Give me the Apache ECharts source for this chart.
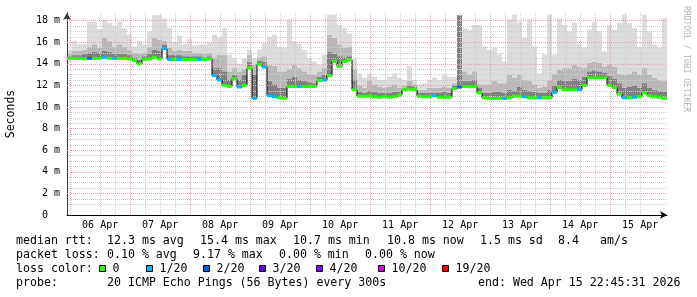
<!DOCTYPE html>
<html><head><meta charset="utf-8">
<script src="https://cdn.jsdelivr.net/npm/echarts@6/dist/echarts.min.js"></script>
<style>html,body{margin:0;padding:0;background:#fff}#c{width:697px;height:297px}</style>
</head><body><div id="c"></div>
<script>
// ---- data (ms), one value per 2-hour slot from Apr 5 22:45 to Apr 15 22:45 ----
const dayLabels = ['06 Apr','07 Apr','08 Apr','09 Apr','10 Apr','11 Apr','12 Apr','13 Apr','14 Apr','15 Apr'];
const median = [
14.5,14.5,14.5,14.45,14.5,14.5,14.5,14.6,14.5,14.5,
14.5,14.5,14.45,14.3,14.0,14.4,14.45,14.6,14.45,15.4,
14.4,14.4,14.4,14.4,14.4,14.4,14.4,14.4,14.45,12.9,
12.5,12.0,11.9,12.6,11.85,12.0,13.6,10.8,13.95,13.7,
11.05,10.95,10.85,10.8,11.9,11.9,11.9,11.9,11.9,11.9,
12.45,12.5,12.9,14.2,13.75,14.2,14.35,11.6,11.0,11.0,
11.0,10.95,10.9,10.95,10.9,10.95,11.1,11.6,11.65,11.6,
11.0,10.95,10.95,11.05,10.9,10.9,10.9,11.7,11.85,11.9,
11.9,11.9,11.3,10.85,10.8,10.8,10.8,10.8,10.85,11.0,
11.0,10.95,10.85,10.85,10.85,10.85,10.85,11.35,11.8,11.6,
11.6,11.6,11.6,12.0,12.7,12.7,12.7,12.7,12.0,11.8,
11.2,10.85,10.85,10.9,10.95,11.3,11.05,10.95,10.9,10.8];
const darkTop = [
14.7,14.8,14.8,14.9,15.0,15.1,15.0,15.2,15.1,14.9,
14.9,14.9,14.8,14.6,14.4,14.7,14.9,15.3,15.2,15.8,
14.8,14.8,14.8,14.7,14.7,14.7,14.7,14.6,14.7,13.6,
13.6,13.3,12.5,13.0,12.5,13.0,14.2,13.0,14.3,14.2,
12.4,12.1,11.8,11.8,12.6,12.8,12.5,12.4,12.3,12.2,
12.8,13.0,15.1,14.9,14.7,14.6,14.7,12.5,11.4,11.3,
11.5,11.4,11.3,11.3,11.3,11.4,11.4,11.8,12.0,11.9,
11.3,11.3,11.3,11.3,11.3,11.4,11.3,12.0,18.5,12.4,
12.4,12.5,11.8,11.3,11.3,11.4,11.4,11.3,11.6,11.5,
11.9,11.6,11.5,11.4,11.3,11.3,11.6,12.0,12.5,12.4,
12.4,12.6,12.5,12.8,13.3,13.4,13.3,13.2,12.9,12.6,
12.2,11.8,11.9,12.0,11.8,12.2,11.8,11.6,11.5,11.4];
const midTop = [
14.9,15.2,15.2,15.3,15.6,15.8,15.5,16.4,16.1,15.6,
15.8,15.6,15.3,15.0,14.9,15.0,15.6,16.4,16.2,16.1,
15.5,15.2,15.3,15.2,15.2,15.0,15.0,14.9,15.0,14.6,
14.85,14.8,13.3,13.6,13.3,13.5,14.85,13.9,14.6,14.7,
13.9,13.8,13.3,13.3,13.5,13.9,13.6,13.3,13.1,13.0,
13.3,13.6,16.7,16.4,15.8,15.5,15.6,13.5,12.0,11.8,
12.4,12.1,11.9,11.8,11.9,12.1,11.8,12.0,12.4,12.1,
11.6,11.6,11.8,11.8,11.8,11.9,11.8,12.2,18.5,13.3,
13.0,13.3,12.1,12.1,12.1,12.4,12.2,12.2,13.0,12.7,
13.0,12.5,12.4,12.1,11.8,11.9,12.5,13.1,13.45,13.6,
13.6,13.9,13.75,13.6,14.1,14.2,14.1,13.75,13.9,13.75,
13.1,13.0,13.1,13.3,13.0,13.6,13.0,12.7,12.5,12.4];
const maxTop = [
15.3,16.1,15.8,15.8,17.9,17.9,17.2,18.1,17.8,17.5,
17.9,17.3,16.7,15.6,16.1,15.8,17.0,18.5,18.5,18.2,
17.3,16.0,16.6,15.8,16.3,15.7,15.8,15.8,16.0,16.7,
16.4,17.3,14.85,14.5,14.0,14.5,15.3,14.5,15.3,15.9,
16.5,16.7,15.5,15.5,18.1,16.1,15.8,15.3,14.5,14.2,
13.9,14.85,18.55,18.55,17.6,17.3,16.8,14.5,13.1,12.7,
13.1,12.8,12.5,12.5,12.8,13.1,12.7,12.5,13.8,12.5,
12.1,12.2,12.5,12.7,12.5,13.0,12.8,12.8,18.55,17.3,
17.15,17.6,17.6,15.6,15.3,15.5,14.85,14.2,18.1,18.55,
17.9,16.4,18.1,15.6,13.1,14.85,18.55,14.85,18.2,17.6,
17.0,17.8,15.8,15.5,17.15,17.9,17.0,15.15,17.6,17.15,
17.8,18.55,17.8,17.3,15.5,18.55,17.0,15.8,15.5,18.2];
const lossCount = [
0,0,0,0,2,0,0,1,0,1,
0,0,0,0,0,0,0,0,0,1,
1,0,1,0,0,0,1,0,0,1,
1,0,0,0,1,0,0,1,0,1,
1,1,0,0,0,0,1,0,0,0,
0,1,0,0,0,0,0,0,0,0,
0,0,0,0,0,0,0,0,0,0,
0,0,0,1,0,0,0,0,2,0,
0,0,0,0,0,0,0,1,0,0,
0,1,0,0,1,0,0,1,0,0,
0,0,1,0,0,0,0,0,0,0,
0,1,0,1,0,0,0,0,0,0];
const lossLevels = [0,1,2,3,4,10,19];
const lossLabels = ['0','1/20','2/20','3/20','4/20','10/20','19/20'];
const lossColors = ['#26ff00','#00b8ff','#0059ff','#5e00ff','#7e00ff','#dd00ff','#ff0000'];
const statRows = [
  ['median rtt:', '12.3 ms avg', '15.4 ms max', '10.7 ms min', '10.8 ms now', '1.5 ms sd', '8.4', 'am/s'],
  ['packet loss:', '0.10 % avg', '9.17 % max', '0.00 % min', '0.00 % now']
];
const probeText = '20 ICMP Echo Pings (56 Bytes) every 300s';
const endText = 'end: Wed Apr 15 22:45:31 2026';

// ---- layout ----
const FONT = '"DejaVu Sans Mono", monospace';
const startMs = Date.UTC(2026, 3, 5, 22, 45);
const categories = median.map((_, i) => new Date(startMs + i * 7200000).toISOString().slice(5, 16));
const xMin = -1.25, xMax = 238.75; // hours relative to 06 Apr 00:00
const yMax = 18.7;
const minorX = [], majorX = [], labelX = [], minorY = [], majorY = [];
for (let h = 0; h <= xMax; h += 6) (h % 24 === 0 ? majorX : minorX).push(h);
dayLabels.forEach((_, k) => labelX.push(12 + 24 * k));
for (let q = 1; q * 0.5 <= yMax; q++) (q % 4 === 0 ? majorY : minorY).push(q * 0.5);
majorY.unshift(0);

function lossColor(n) {
  let c = lossColors[0];
  lossLevels.forEach((lv, k) => { if (n >= lv) c = lossColors[k]; });
  return c;
}
const dkBand = median.map((m, i) => +(darkTop[i] - m).toFixed(3));
const mgBand = darkTop.map((d, i) => +(midTop[i] - d).toFixed(3));
const ltBand = midTop.map((d, i) => +(maxTop[i] - d).toFixed(3));

const FS = 11.6;
const rowY = [241, 255, 269, 283];
const row1X = [16, 107, 200, 293, 387, 480, 558, 600];
const row2X = [16, 107, 193, 279, 365];
const boxX = [99, 146, 203, 259, 316, 378, 442];
const graphics = [];
function txt(x, y, s) {
  graphics.push({type: 'text', x: x, y: y, style: {text: s, font: FS + 'px ' + FONT, fill: '#000', verticalAlign: 'middle'}});
}
statRows[0].forEach((s, k) => txt(row1X[k], rowY[0], s));
statRows[1].forEach((s, k) => txt(row2X[k], rowY[1], s));
txt(16, rowY[2], 'loss color:');
lossLabels.forEach((s, k) => {
  graphics.push({type: 'rect', shape: {x: boxX[k] + 0.5, y: rowY[2] - 3.5, width: 6, height: 6}, style: {fill: lossColors[k], stroke: '#000', lineWidth: 1}});
  txt(boxX[k] + 13.5, rowY[2], s);
});
txt(16, rowY[3], 'probe:');
txt(107, rowY[3], probeText);
txt(478, rowY[3], endText);
graphics.push({type: 'text', x: 11, y: 114, rotation: Math.PI / 2, style: {text: 'Seconds', font: '11.5px ' + FONT, fill: '#000', align: 'center', verticalAlign: 'middle'}});
graphics.push({type: 'text', x: 686, y: 59, rotation: -Math.PI / 2, style: {text: 'RRDTOOL / TOBI OETIKER', font: '8px ' + FONT, fill: '#b4b4b4', align: 'center', verticalAlign: 'middle'}});

const minorLine = {show: true, showMaxLine: false, showMinLine: false, lineStyle: {color: '#cccccc', type: [1, 1], width: 1}};
const majorStyle = {color: '#eba3a3', type: [1, 1], width: 1};
const majorMarks = majorX.map(v => ({xAxis: v})).concat(majorY.filter(v => v > 0).map(v => ({yAxis: v})));

const chart = echarts.init(document.getElementById('c'), null, {renderer: 'canvas'});
chart.setOption({
  animation: false,
  backgroundColor: '#fff',
  grid: {left: 67, right: 30, top: 13, bottom: 82, containLabel: false},
  xAxis: [
    {type: 'category', data: categories, show: false, boundaryGap: true, position: 'bottom'},
    {type: 'value', min: xMin, max: xMax, z: 3, position: 'bottom',
     axisLine: {show: false}, axisTick: {show: false, customValues: minorX}, axisLabel: {show: false},
     splitLine: minorLine},
    {type: 'value', min: xMin, max: xMax, z: 3, position: 'bottom',
     axisLine: {show: true, onZero: false, symbol: ['none', 'arrow'], symbolSize: [6, 7], lineStyle: {color: '#000', width: 1}},
     axisTick: {show: false, customValues: majorX},
     axisLabel: {show: true, customValues: labelX, margin: 5, fontFamily: FONT, fontSize: 10, color: '#000',
       formatter: v => dayLabels[Math.round((v - 12) / 24)] || ''},
     splitLine: {show: false}}
  ],
  yAxis: [
    {type: 'value', min: 0, max: yMax, z: 3, position: 'left',
     axisLine: {show: false}, axisTick: {show: false, customValues: minorY}, axisLabel: {show: false}, splitLine: minorLine},
    {type: 'value', min: 0, max: yMax, z: 3, position: 'left',
     axisLine: {show: true, onZero: false, symbol: ['none', 'arrow'], symbolSize: [6, 7], lineStyle: {color: '#333', width: 1}},
     axisTick: {show: false, customValues: majorY},
     axisLabel: {show: true, customValues: majorY, margin: 7, fontFamily: FONT, fontSize: 10, color: '#000',
       formatter: v => v === 0 ? '0  ' : v + ' m'},
     splitLine: {show: false}}
  ],
  graphic: graphics,
  series: [
    {type: 'bar', stack: 's', data: median, barCategoryGap: '0%', itemStyle: {color: 'rgba(0,0,0,0)'}, z: 2, silent: true},
    {type: 'bar', stack: 's', data: dkBand, barCategoryGap: '0%', itemStyle: {color: '#808080'}, z: 2, silent: true},
    {type: 'bar', stack: 's', data: mgBand, barCategoryGap: '0%', itemStyle: {color: '#b8b8b8'}, z: 2, silent: true},
    {type: 'bar', stack: 's', data: ltBand, barCategoryGap: '0%', itemStyle: {color: '#dcdcdc'}, z: 2, silent: true},
    {type: 'line', xAxisIndex: 2, yAxisIndex: 1, data: [[xMin, 0]], symbol: 'none', lineStyle: {opacity: 0}, z: 3, silent: true,
     markLine: {silent: true, symbol: ['none', 'none'], label: {show: false}, lineStyle: majorStyle, emphasis: {disabled: true}, data: majorMarks}},
    {type: 'line', step: 'middle', data: median, symbol: 'none', lineStyle: {color: '#000', width: 1}, z: 4, silent: true},
    {type: 'custom', z: 5, silent: true,
     data: median.map((m, i) => [i, m, lossCount[i]]),
     renderItem: function (params, api) {
       const p = api.coord([api.value(0), api.value(1)]);
       const w = api.size([1, 0])[0];
       return {type: 'rect', shape: {x: p[0] - w / 2, y: p[1] - 1.5, width: w, height: 3},
               style: {fill: lossColor(api.value(2))}};
     }}
  ]
});
</script></body></html>
